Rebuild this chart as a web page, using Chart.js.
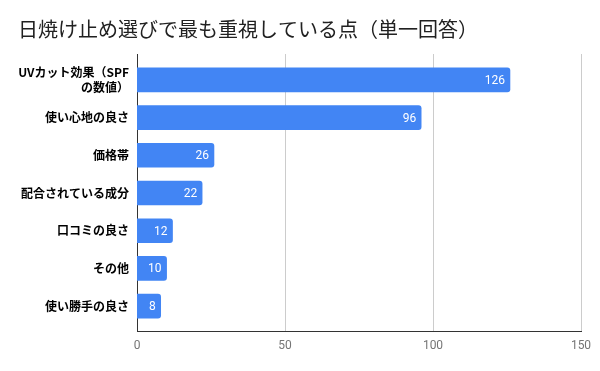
<!DOCTYPE html>
<html>
<head>
<meta charset="utf-8">
<script src="https://cdn.jsdelivr.net/npm/chart.js@4/dist/chart.umd.min.js"></script>
<style>
html,body{margin:0;padding:0;background:#fff;}
#wrap{width:600px;height:371px;position:relative;}
</style>
</head>
<body>
<div id="wrap"><canvas id="c"></canvas></div>
<script>
const titleText = '日焼け止め選びで最も重視している点（単一回答）';
const categories = [
  ['UVカット効果（SPF', 'の数値）'],
  '使い心地の良さ',
  '価格帯',
  '配合されている成分',
  '口コミの良さ',
  'その他',
  '使い勝手の良さ'
];
const values = [126, 96, 26, 22, 12, 10, 8];
const xTicks = [0, 50, 100, 150];

const gridPlugin = {
  id: 'extGrid',
  beforeDatasetsDraw(chart) {
    const {ctx, chartArea, scales} = chart;
    const xs = scales.x;
    const top = chartArea.top - 7, bottom = chartArea.bottom + 6;
    ctx.save();
    ctx.lineWidth = 1;
    xTicks.forEach(v => {
      const x = Math.round(xs.getPixelForValue(v)) + 0.5;
      ctx.strokeStyle = v === 0 ? '#333333' : '#cccccc';
      ctx.beginPath();
      ctx.moveTo(x, top);
      ctx.lineTo(x, bottom);
      ctx.stroke();
    });
    ctx.strokeStyle = '#333333';
    ctx.beginPath();
    const y = Math.round(bottom) + 0.5;
    ctx.moveTo(Math.round(xs.getPixelForValue(0)), y);
    ctx.lineTo(Math.round(xs.getPixelForValue(150)) + 1, y);
    ctx.stroke();
    ctx.restore();
  },
  afterDatasetsDraw(chart) {
    const {ctx} = chart;
    const meta = chart.getDatasetMeta(0);
    ctx.save();
    ctx.fillStyle = '#ffffff';
    ctx.font = '12px Roboto';
    ctx.textAlign = 'right';
    ctx.textBaseline = 'middle';
    meta.data.forEach((bar, i) => {
      ctx.fillText(String(values[i]), bar.x - 5, bar.y + 1);
    });
    ctx.restore();
  }
};

new Chart(document.getElementById('c'), {
  type: 'bar',
  data: {
    labels: categories,
    datasets: [{
      data: values,
      backgroundColor: '#4285f4',
      borderRadius: 3,
      borderSkipped: 'start',
      barThickness: 24
    }]
  },
  options: {
    indexAxis: 'y',
    responsive: true,
    maintainAspectRatio: false,
    animation: false,
    layout: {padding: {left: 18, right: 19, top: 0, bottom: 0}},
    plugins: {
      legend: {display: false},
      tooltip: {enabled: false},
      title: {
        display: true,
        text: titleText,
        align: 'start',
        color: '#212121',
        font: {family: '"Noto Sans CJK JP", sans-serif', size: 20, weight: 'normal'},
        padding: {top: 17, bottom: 20}
      }
    },
    scales: {
      x: {
        min: 0, max: 150,
        afterBuildTicks: s => { s.ticks = xTicks.map(v => ({value: v})); },
        afterFit: s => { s.height = 46; s.paddingLeft = 0; s.paddingRight = 0; },
        grid: {display: false, drawTicks: false},
        border: {display: false},
        ticks: {color: '#757575', font: {family: 'Roboto', size: 12}, padding: 14}
      },
      y: {
        afterFit: s => { s.width = 119; },
        grid: {display: false, drawTicks: false},
        border: {display: false},
        ticks: {color: '#000000', font: {family: '"Noto Sans CJK JP", sans-serif', size: 12, weight: 'bold', lineHeight: 1.25}, padding: 8}
      }
    }
  },
  plugins: [gridPlugin]
});
</script>
</body>
</html>
